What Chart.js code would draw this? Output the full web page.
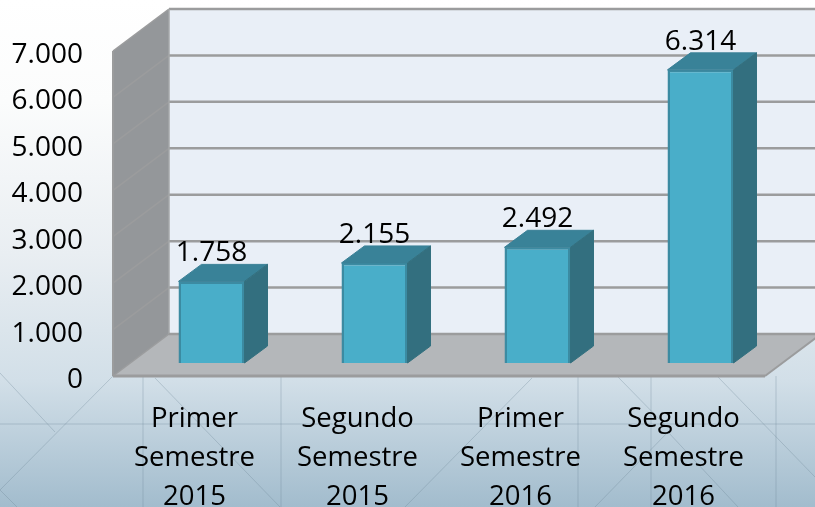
<!DOCTYPE html>
<html>
<head>
<meta charset="utf-8">
<title>Semestres</title>
<script src="https://cdn.jsdelivr.net/npm/chart.js@4/dist/chart.umd.min.js"></script>
<style>
html, body { margin: 0; padding: 0; background: #fff; }
#box { width: 815px; height: 507px; }
</style>
</head>
<body>
<div id="box"><canvas id="myChart" width="815" height="507"></canvas></div>
<script>
'use strict';

let categories = [
    ['Primer', 'Semestre', '2015'],
    ['Segundo', 'Semestre', '2015'],
    ['Primer', 'Semestre', '2016'],
    ['Segundo', 'Semestre', '2016']
];
let values = [1758, 2155, 2492, 6314];
let valueLabels = ['1.758', '2.155', '2.492', '6.314'];
let tickLabels = ['0', '1.000', '2.000', '3.000', '4.000', '5.000', '6.000', '7.000'];

// the bars sit a bit behind the front of the floor, walls further back
let frontDx = -17, frontDy = 13;
let backDx = 39, backDy = -29;
let barDx = 23, barDy = -17;

let wallLine = '#9b9c9d';
let fontName = '"Open Sans"';

function poly(ctx, pts, fill, stroke, lw) {
    ctx.beginPath();
    ctx.moveTo(pts[0][0], pts[0][1]);
    for (let i = 1; i < pts.length; i++) {
        ctx.lineTo(pts[i][0], pts[i][1]);
    }
    ctx.closePath();
    if (fill) {
        ctx.fillStyle = fill;
        ctx.fill();
    }
    if (stroke) {
        ctx.strokeStyle = stroke;
        ctx.lineWidth = lw;
        ctx.stroke();
    }
}

function line(ctx, x1, y1, x2, y2, color, lw) {
    ctx.beginPath();
    ctx.moveTo(x1, y1);
    ctx.lineTo(x2, y2);
    ctx.strokeStyle = color;
    ctx.lineWidth = lw;
    ctx.stroke();
}

let backdrop = {
    id: 'backdrop',
    beforeDraw(chart) {
        let ctx = chart.ctx;
        let w = chart.width, h = chart.height;
        let g = ctx.createLinearGradient(0, 0, 0, h);
        g.addColorStop(0, '#ffffff');
        g.addColorStop(0.2, '#fbfcfc');
        g.addColorStop(0.5, '#e9eef2');
        g.addColorStop(0.75, '#d2dfe8');
        g.addColorStop(1, '#a2bccd');
        ctx.fillStyle = g;
        ctx.fillRect(0, 0, w, h);

        // faint lines of the slide background
        let faint = 'rgba(110,135,150,0.32)';
        [[143, 376, 143, 507], [281, 376, 281, 507], [578, 376, 578, 507], [651, 376, 651, 507], [776, 376, 776, 507],
            [0, 424, 815, 424], [0, 490, 113, 376], [0, 490, 17, 507], [0, 373, 55, 432], [155, 378, 280, 507],
            [532, 378, 405, 507], [618, 377, 665, 425], [668, 432, 738, 507], [668, 432, 595, 507], [718, 377, 815, 477]
        ].forEach(s => line(ctx, s[0], s[1], s[2], s[3], faint, 1));
    }
};

let walls = {
    id: 'walls',
    beforeDatasetsDraw(chart) {
        let ctx = chart.ctx;
        let y = chart.scales.y;
        let a = chart.chartArea;
        let top = y.getPixelForValue(7000), bottom = y.getPixelForValue(0);
        let fl = a.left + frontDx, fr = a.right + frontDx;
        let bl = a.left + backDx, br = a.right + backDx;
        let ft = top + frontDy, fb = bottom + frontDy;
        let bt = top + backDy, bb = bottom + backDy;

        poly(ctx, [[bl, bt], [br, bt], [br, bb], [bl, bb]], '#e9eff7');
        poly(ctx, [[fl, ft], [bl, bt], [bl, bb], [fl, fb]], '#94979a');
        poly(ctx, [[fl, fb], [bl, bb], [br, bb], [fr, fb]], '#b4b7ba');

        for (let i = 1; i < y.ticks.length; i++) {
            let py = y.getPixelForValue(y.ticks[i].value);
            line(ctx, fl, py + frontDy, bl, py + backDy, wallLine, 1.5);
            line(ctx, bl, py + backDy, br, py + backDy, wallLine, 2.5);
        }
        line(ctx, fl, ft, fl, fb, wallLine, 2);
        line(ctx, bl, bt, bl, bb, '#a5a7a9', 1.5);
        line(ctx, fl, fb, bl, bb, wallLine, 1.5);
        line(ctx, bl, bb, br, bb, wallLine, 2.5);
        line(ctx, fl, fb, fr, fb, wallLine, 3);
        line(ctx, fr, fb, br, bb, wallLine, 2);
    }
};

let barSides = {
    id: 'barSides',
    afterDatasetsDraw(chart) {
        let ctx = chart.ctx;
        let bars = chart.getDatasetMeta(0).data;
        bars.forEach((bar, i) => {
            let half = bar.width / 2;
            let l = bar.x - half, r = bar.x + half;
            let t = bar.y, b = bar.base;
            poly(ctx, [[l, t], [l + barDx, t + barDy], [r + barDx, t + barDy], [r, t]], '#398298', '#3a8097', 1);
            poly(ctx, [[r, t], [r + barDx, t + barDy], [r + barDx, b + barDy], [r, b]], '#336f7f', '#33707f', 1);

            ctx.font = '28px ' + fontName;
            ctx.fillStyle = '#000';
            ctx.textAlign = 'center';
            ctx.textBaseline = 'middle';
            ctx.fillText(valueLabels[i], bar.x, t - 28);
        });
    }
};

let ctx = document.getElementById('myChart').getContext('2d');
let myChart = new Chart(ctx, {
    type: 'bar',
    data: {
        labels: categories,
        datasets: [{
            label: 'Total',
            data: values,
            backgroundColor: '#49aec9',
            borderColor: '#3c8ba2',
            borderWidth: 2.5,
            categoryPercentage: 0.405,
            barPercentage: 1
        }]
    },
    options: {
        responsive: false,
        animation: false,
        layout: { padding: { top: 38, right: 33, left: 0, bottom: 0 } },
        plugins: {
            legend: { display: false },
            tooltip: { enabled: false }
        },
        scales: {
            x: {
                grid: { display: false, drawTicks: false },
                border: { display: false },
                afterFit(scale) { scale.height = 144; },
                ticks: {
                    color: '#000',
                    autoSkip: false,
                    maxRotation: 0,
                    minRotation: 0,
                    padding: 37,
                    labelOffset: -17,
                    font: { family: 'Open Sans', size: 27.5, lineHeight: 1.42 }
                }
            },
            y: {
                min: 0,
                max: 7000,
                grid: { display: false, drawTicks: false },
                border: { display: false },
                afterFit(scale) {
                    scale.width = 130;
                    scale.paddingTop = 0;
                    scale.paddingBottom = 0;
                },
                ticks: {
                    stepSize: 1000,
                    color: '#000',
                    padding: 47,
                    labelOffset: 17,
                    font: { family: 'Open Sans', size: 28 },
                    callback: function(value, index) { return tickLabels[index]; }
                }
            }
        }
    },
    plugins: [backdrop, walls, barSides]
});
</script>
</body>
</html>
